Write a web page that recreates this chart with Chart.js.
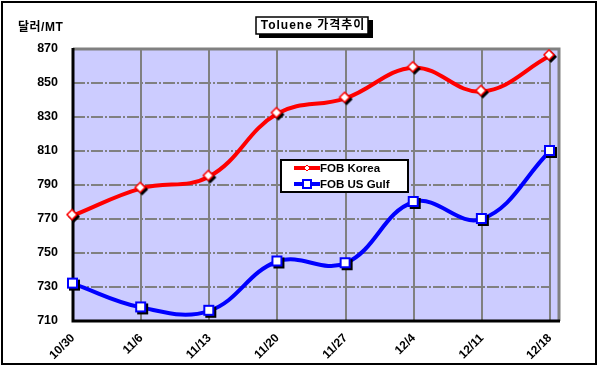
<!DOCTYPE html>
<html>
<head>
<meta charset="utf-8">
<script src="https://cdn.jsdelivr.net/npm/chart.js@4/dist/chart.umd.min.js"></script>
<style>
  body { margin: 0; background: #fff; }
</style>
</head>
<body>
<canvas id="toluene" width="598" height="368"></canvas>
<script>
const weeks = ["10/30", "11/6", "11/13", "11/20", "11/27", "12/4", "12/11", "12/18"];
const fobKorea = [772, 788, 795, 832, 841, 859, 845, 866];
const fobUsGulf = [732, 718, 716, 745, 744, 780, 770, 810];
const yTicks = [710, 730, 750, 770, 790, 810, 830, 850, 870];

const FONT = "'Liberation Sans', Arial, 'Noto Sans CJK KR', sans-serif";

// marker images with a black drop shadow, like the excel original
function makeMarker(kind, color) {
    const c = document.createElement('canvas');
    c.width = 16; c.height = 16;
    const g = c.getContext('2d');
    const draw = (dx, dy, fill, stroke) => {
        g.beginPath();
        if (kind === 'diamond') {
            g.moveTo(7 + dx, 2 + dy); g.lineTo(12 + dx, 7 + dy);
            g.lineTo(7 + dx, 12 + dy); g.lineTo(2 + dx, 7 + dy);
            g.closePath();
        } else {
            g.rect(3 + dx, 3 + dy, 9, 9);
        }
        g.fillStyle = fill; g.fill();
        if (stroke) { g.lineWidth = kind === 'diamond' ? 1.5 : 2; g.strokeStyle = stroke; g.stroke(); }
    };
    draw(2, 2, '#000', '#000');
    draw(0, 0, '#fff', color);
    return c;
}
const diamond = makeMarker('diamond', '#ff0000');
const square = makeMarker('square', '#0000ff');

const decor = {
    id: 'decor',
    beforeDraw(chart) {
        const { ctx, chartArea: a } = chart;
        ctx.save();
        ctx.fillStyle = '#fff';
        ctx.fillRect(0, 0, chart.width, chart.height);
        ctx.lineWidth = 2;
        ctx.strokeStyle = '#000';
        ctx.strokeRect(2, 2, 594, 362);
        ctx.fillStyle = '#ccccff';
        ctx.fillRect(a.left, a.top, a.right - a.left + 9, a.bottom - a.top);
        // y axis title
        ctx.fillStyle = '#000';
        ctx.font = 'bold 12px ' + FONT;
        ctx.textBaseline = 'middle';
        ctx.letterSpacing = '0.5px';
        ctx.fillText('달러/MT', 18, 28);
        // title box
        ctx.fillRect(259, 20, 114, 18);
        ctx.fillStyle = '#fff';
        ctx.fillRect(256, 17, 112, 17);
        ctx.lineWidth = 1.5;
        ctx.strokeRect(256, 17, 112, 17);
        ctx.fillStyle = '#000';
        ctx.font = 'bold 12px ' + FONT;
        ctx.textAlign = 'center';
        ctx.letterSpacing = '1px';
        ctx.fillText('Toluene 가격추이', 313, 26);
        ctx.restore();
    },
    beforeDatasetsDraw(chart) {
        const { ctx, chartArea: a } = chart;
        ctx.save();
        ctx.lineWidth = 3;
        ctx.strokeStyle = '#808080';
        ctx.beginPath();
        ctx.moveTo(a.left, a.top); ctx.lineTo(a.right + 9, a.top); ctx.lineTo(a.right + 9, a.bottom);
        ctx.stroke();
        ctx.strokeStyle = '#000';
        ctx.beginPath();
        ctx.moveTo(a.left, a.top - 1); ctx.lineTo(a.left, a.bottom); ctx.lineTo(a.right + 10, a.bottom);
        ctx.stroke();
        ctx.restore();
    },
    afterDraw(chart) {
        const { ctx } = chart;
        ctx.save();
        ctx.fillStyle = '#fff';
        ctx.fillRect(281, 160, 127, 32);
        ctx.lineWidth = 2;
        ctx.strokeStyle = '#000';
        ctx.strokeRect(281, 160, 127, 32);
        ctx.font = 'bold 11.5px ' + FONT;
        ctx.textBaseline = 'middle';
        chart.data.datasets.forEach((ds, i) => {
            const y = 168 + i * 16;
            ctx.strokeStyle = ds.borderColor;
            ctx.lineWidth = 4;
            ctx.beginPath(); ctx.moveTo(294, y); ctx.lineTo(320, y); ctx.stroke();
            ctx.fillStyle = '#fff';
            ctx.strokeStyle = ds.borderColor;
            ctx.lineWidth = i ? 2 : 1;
            if (i === 0) {
                ctx.beginPath();
                ctx.moveTo(307, y - 3); ctx.lineTo(310, y); ctx.lineTo(307, y + 3); ctx.lineTo(304, y);
                ctx.closePath(); ctx.fill(); ctx.stroke();
            } else {
                ctx.fillRect(303, y - 4, 8, 8); ctx.strokeRect(303, y - 4, 8, 8);
            }
            ctx.fillStyle = '#000';
            ctx.fillText(ds.label, 320, y + 0.5);
        });
        ctx.restore();
    }
};

new Chart(document.getElementById('toluene'), {
    type: 'line',
    data: {
        labels: weeks,
        datasets: [
            { label: 'FOB Korea', data: fobKorea, borderColor: '#ff0000', borderWidth: 4,
              tension: 0.4, pointStyle: diamond, pointRadius: 7 },
            { label: 'FOB US Gulf', data: fobUsGulf, borderColor: '#0000ff', borderWidth: 4,
              tension: 0.4, pointStyle: square, pointRadius: 7 }
        ]
    },
    options: {
        responsive: false,
        animation: false,
        layout: { padding: { top: 49, right: 48, left: 0, bottom: 0 } },
        plugins: { legend: { display: false }, tooltip: { enabled: false } },
        scales: {
            x: {
                offset: false,
                afterFit: s => { s.height = 47; },
                grid: { color: '#808080', lineWidth: 2, drawTicks: false },
                border: { display: false },
                ticks: {
                    minRotation: 45, maxRotation: 45, padding: 10,
                    color: '#000', font: { family: FONT, size: 12, weight: 'bold' }
                }
            },
            y: {
                min: 710, max: 870,
                afterFit: s => { s.width = 73; },
                afterBuildTicks: s => { s.ticks = yTicks.map(v => ({ value: v })); },
                grid: { color: '#808080', lineWidth: 2, drawTicks: false },
                border: { display: false, dash: [12, 2, 2, 2] },
                ticks: {
                    padding: 15, color: '#000',
                    font: { family: FONT, size: 12.5, weight: 'bold' }
                }
            }
        }
    },
    plugins: [decor]
});
</script>
</body>
</html>
